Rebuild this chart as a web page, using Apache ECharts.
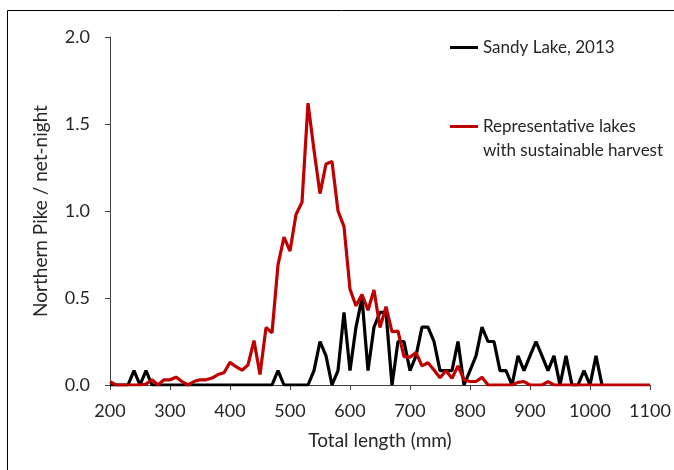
<!DOCTYPE html>
<html>
<head>
<meta charset="utf-8">
<script src="https://cdn.jsdelivr.net/npm/echarts@6/dist/echarts.min.js"></script>
<style>
html,body{margin:0;padding:0;background:#fff;}
#chart{width:674px;height:470px;}
</style>
</head>
<body>
<div id="chart"></div>
<script>
const sandyLengths = [200,210,220,230,240,250,260,270,280,290,
  300,310,320,330,340,350,360,370,380,390,
  400,410,420,430,440,450,460,470,480,490,
  500,510,520,530,540,550,560,570,580,590,
  600,610,620,630,640,650,660,670,680,690,
  700,710,720,730,740,750,760,770,780,790,
  800,810,820,830,840,850,860,870,880,890,
  900,910,920,930,940,950,960,970,980,990,
  1000,1010,1020];
const sandyValues = [0,0,0,0,0.083,0,0.083,0,0,0,
  0,0,0,0,0,0,0,0,0,0,
  0,0,0,0,0,0,0,0,0.083,0,
  0,0,0,0,0.083,0.25,0.167,0,0.083,0.417,
  0.083,0.333,0.5,0.083,0.333,0.417,0.417,0,0.25,0.25,
  0.083,0.167,0.333,0.333,0.25,0.083,0.083,0.083,0.25,0,
  0.083,0.167,0.333,0.25,0.25,0.083,0.083,0,0.167,0.083,
  0.167,0.25,0.167,0.083,0.167,0,0.167,0,0,0.083,
  0,0.167,0];
const repLengths = [200,210,220,230,240,250,260,270,280,290,
  300,310,320,330,340,350,360,370,380,390,
  400,410,420,430,440,450,460,470,480,490,
  500,510,520,530,540,550,560,570,580,590,
  600,610,620,630,640,650,660,670,680,690,
  700,710,720,730,740,750,760,770,780,790,
  800,810,820,830,840,850,860,870,880,890,
  900,910,920,930,940,950,960,970,980,990,
  1000,1010,1020,1030,1040,1050,1060,1070,1080,1090,1100];
const repValues = [0.02,0,0,0,0,0,0.005,0.03,0,0.03,
  0.03,0.045,0.02,0,0.02,0.03,0.03,0.04,0.06,0.07,
  0.13,0.105,0.085,0.115,0.255,0.06,0.33,0.30,0.69,0.85,
  0.77,0.98,1.05,1.62,1.35,1.10,1.27,1.285,1.00,0.91,
  0.55,0.455,0.52,0.43,0.546,0.33,0.45,0.306,0.31,0.163,
  0.16,0.186,0.11,0.128,0.086,0.042,0.082,0.038,0.11,0.03,
  0.02,0.02,0.044,0,0,0,0,0,0.015,0.02,
  0,0,0,0.02,0,0,0,0,0,0,
  0,0,0,0,0,0,0,0,0,0,0];
const xTicks = {min:200, max:1100, interval:100};
const yTicks = {min:0, max:2, interval:0.5};
const seriesNames = ['Sandy Lake, 2013', 'Representative lakes'];
const legendSecondLine = 'with sustainable harvest';
const xTitle = 'Total length (mm)';
const yTitle = 'Northern Pike / net-night';

const FONT = 'Lato';
const TXT = '#262626';
const AX = '#404040';

const chart = echarts.init(document.getElementById('chart'), null, {renderer:'canvas'});
const pair = (xs, ys) => xs.map((x,i)=>[x, ys[i]]);

chart.setOption({
  animation:false,
  backgroundColor:'#fff',
  textStyle:{fontFamily:FONT},
  grid:{left:110, right:24, top:37, bottom:85, containLabel:false, outerBoundsMode:'none'},
  xAxis:{
    type:'value', min:xTicks.min, max:xTicks.max, interval:xTicks.interval,
    name:xTitle, nameLocation:'middle', nameGap:46,
    nameTextStyle:{fontFamily:FONT, fontSize:19, color:TXT},
    axisLine:{show:true, onZero:false, lineStyle:{color:AX, width:1}},
    axisTick:{show:true, inside:false, length:5, lineStyle:{color:AX}},
    axisLabel:{fontFamily:FONT, fontSize:18, color:TXT, margin:17, formatter:v=>String(v)},
    splitLine:{show:false}
  },
  yAxis:{
    type:'value', min:yTicks.min, max:yTicks.max, interval:yTicks.interval,
    name:yTitle, nameLocation:'middle', nameGap:60, nameRotate:90,
    nameTextStyle:{fontFamily:FONT, fontSize:19, color:TXT},
    axisLine:{show:true, lineStyle:{color:AX, width:1}},
    axisTick:{show:true, inside:false, length:5, lineStyle:{color:AX}},
    axisLabel:{fontFamily:FONT, fontSize:18, color:TXT, margin:20, formatter:v=>v.toFixed(1)},
    splitLine:{show:false}
  },
  legend:[
    {data:[seriesNames[0]], left:450, top:39, padding:0, orient:'vertical',
     icon:'rect', itemWidth:28, itemHeight:3,
     textStyle:{fontFamily:FONT, fontSize:17, color:TXT}},
    {data:[seriesNames[1]], left:450, top:118, padding:0, orient:'vertical',
     icon:'rect', itemWidth:28, itemHeight:3,
     textStyle:{fontFamily:FONT, fontSize:17, color:TXT}}
  ],
  graphic:[
    {type:'rect', shape:{x:7.5, y:10.5, width:800, height:600}, style:{fill:'none', stroke:'#000', lineWidth:1}, silent:true, z:-1},
    {type:'text', left:483, top:142, style:{text:legendSecondLine, font:'17px Lato', fill:TXT}}
  ],
  series:[
    {name:seriesNames[0], type:'line', data:pair(sandyLengths, sandyValues), showSymbol:false, symbol:'none',
     lineStyle:{color:'#000000', width:3.2}, itemStyle:{color:'#000000'}, z:2},
    {name:seriesNames[1], type:'line', data:pair(repLengths, repValues), showSymbol:false, symbol:'none',
     lineStyle:{color:'#C00000', width:3.2}, itemStyle:{color:'#C00000'}, z:3}
  ]
});
</script>
</body>
</html>
